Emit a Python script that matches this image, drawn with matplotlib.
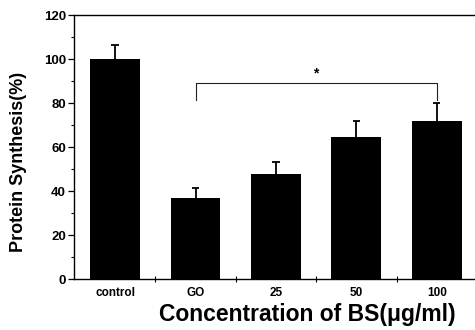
import matplotlib.pyplot as plt
import numpy as np
from matplotlib.ticker import MultipleLocator, FixedLocator

from matplotlib import rcParams
rcParams['font.family'] = 'sans-serif'
rcParams['font.sans-serif'] = ['Liberation Sans', 'DejaVu Sans']
rcParams['font.weight'] = 'bold'

categories = ['control', 'GO', '25', '50', '100']
values = [100, 37, 47.7, 64.7, 72]
errors = [6.4, 4.3, 5.3, 7.1, 8]

fig = plt.figure(figsize=(4.75, 3.3), dpi=100)
ax = fig.add_axes([0.156, 0.1545, 0.848, 0.80])

x = np.arange(len(categories))
tops = np.array(values) + np.array(errors)
ax.bar(x, values, width=0.62, color='black', zorder=2)
# upper error bars only
ax.vlines(x, values, tops, color='black', lw=1.3, zorder=3)
ax.hlines(tops, x - 0.045, x + 0.045, color='black', lw=1.3, zorder=3)

# significance bracket GO vs 100
ax.plot([1, 1, 4, 4], [81.5, 89.2, 89.2, 81.5], color='#222222', lw=0.8)
ax.text(2.5, 90.3, '*', ha='center', va='bottom', fontsize=10, fontweight='bold')

ax.set_xlim(-0.51, 4.5)
ax.set_ylim(0, 120)
ax.set_xticks(x)
ax.set_xticklabels(categories, fontsize=8.5)
ax.xaxis.set_minor_locator(FixedLocator(x[:-1] + 0.5))
ax.tick_params(axis='x', which='major', length=0, pad=6)
ax.tick_params(axis='x', which='minor', length=4, direction='inout', width=0.8)
ax.yaxis.set_major_locator(MultipleLocator(20))
ax.yaxis.set_minor_locator(MultipleLocator(10))
ax.tick_params(axis='y', which='major', length=4, width=0.9, labelsize=9.5, pad=2)
ax.tick_params(axis='y', which='minor', length=2, width=0.8)

ax.spines['right'].set_visible(False)
for s in ['left', 'bottom', 'top']:
    ax.spines[s].set_linewidth(1.0)

ax.set_ylabel('Protein Synthesis(%)', fontsize=13, fontweight='bold')
ax.yaxis.set_label_coords(-0.118, 0.443)
ax.set_xlabel('Concentration of BS(μg/ml)', fontsize=16.5, fontweight='bold')
ax.xaxis.set_label_coords(0.58, -0.09)

plt.savefig('out.png', dpi=100)
